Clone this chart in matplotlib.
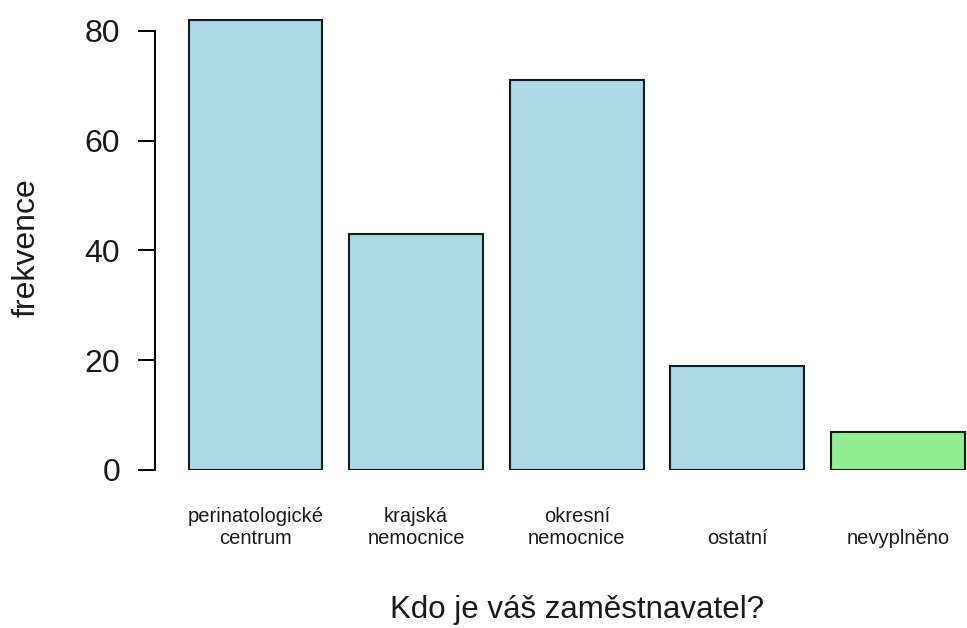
import matplotlib
matplotlib.use("Agg")
import matplotlib.pyplot as plt
import matplotlib.transforms as mtransforms

# data
categories = ["perinatologické\ncentrum", "krajská\nnemocnice", "okresní\nnemocnice",
              "ostatní", "nevyplněno"]
counts = [82, 43, 71, 19, 7]
colors = ["#ADD8E6", "#ADD8E6", "#ADD8E6", "#ADD8E6", "#90EE90"]
yticks = [0, 20, 40, 60, 80]

plt.rcParams['font.family'] = ['Liberation Sans', 'DejaVu Sans']

fig = plt.figure(figsize=(9.67, 6.28), dpi=100)
ax = fig.add_axes([0.1603, 0.2516, 0.8397, 0.734])

x = list(range(len(categories)))
ax.bar(x, counts, width=0.833, color=colors, edgecolor="#1a1a1a", linewidth=1.5)

ax.set_xlim(-0.626, 4.43)
ax.set_ylim(0, 84)

for s in ["top", "right", "bottom"]:
    ax.spines[s].set_visible(False)
ax.spines["left"].set_bounds(0, 80)
ax.spines["left"].set_linewidth(1.4)

ax.set_yticks(yticks)
ax.set_yticklabels([str(v) for v in yticks], fontsize=23, color="#1a1a1a")
ax.tick_params(axis="y", length=12, width=1.4, pad=13)
ax.set_xticks([])

# category labels (bottom aligned, like R's multi-line axis labels)
trans = mtransforms.blended_transform_factory(ax.transData, fig.transFigure)
for xi, lab in zip(x, categories):
    ax.text(xi, 0.128, lab, transform=trans, ha="center", va="bottom",
            fontsize=14.5, color="#1a1a1a", linespacing=1.15)

fig.text(0.597, 0.029, "Kdo je váš zaměstnavatel?", ha="center", va="center",
         fontsize=22.5, color="#1a1a1a")
fig.text(0.027, 0.605, "frekvence", ha="center", va="center", rotation=90,
         fontsize=23, color="#1a1a1a")

fig.savefig("out.png", dpi=100)
